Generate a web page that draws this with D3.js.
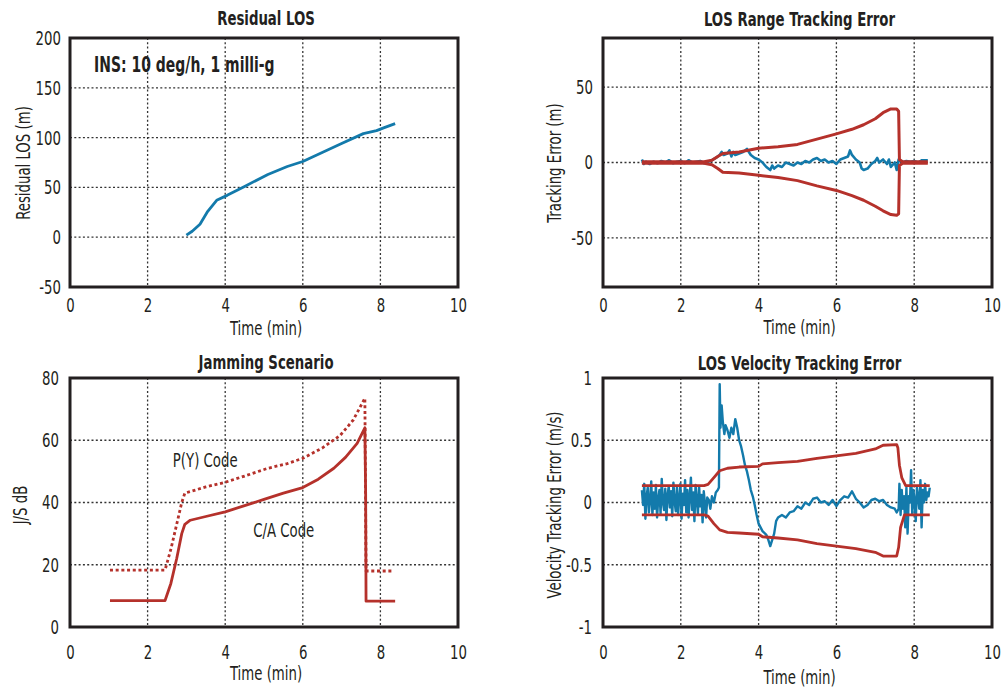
<!DOCTYPE html>
<html>
<head>
<meta charset="utf-8">
<script src="https://cdn.jsdelivr.net/npm/d3@7"></script>
<style>
  body { margin: 0; background: #fff; }
  svg { display: block; }
  text { font-family: "Liberation Sans Narrow", "DejaVu Sans Condensed", sans-serif; fill: #231f20; }
</style>
</head>
<body>
<div id="chart"></div>
<script>
// ---- data (time in minutes) ----
const residualLos = [[3.0, 2], [3.15, 6], [3.35, 13], [3.55, 26], [3.78, 37], [4.05, 42], [4.5, 51],
  [5.1, 63], [5.6, 71], [6.0, 76], [6.5, 85], [7.0, 94], [7.56, 104], [7.9, 107], [8.1, 110], [8.38, 114]];

const rangeUpper = [[1.0, 0.5], [2.6, 0.5], [2.8, 1.5], [2.95, 4], [3.08, 6], [3.5, 7], [4.0, 9.5],
  [4.5, 10.5], [5.0, 12], [5.5, 15.5], [6.0, 19], [6.4, 22], [6.7, 25], [7.0, 29], [7.2, 33],
  [7.4, 35.5], [7.55, 35.5], [7.6, 34], [7.62, 2], [7.7, 0.5], [8.35, 0.5]];
const rangeLower = [[1.0, -0.5], [2.6, -0.5], [2.8, -1.5], [2.95, -4], [3.08, -6.5], [3.5, -7], [4.0, -8.5],
  [4.5, -10], [5.0, -12], [5.5, -15.5], [6.0, -18.5], [6.4, -22], [6.7, -25], [7.0, -29], [7.2, -32],
  [7.4, -34.5], [7.55, -35], [7.6, -34], [7.62, -2], [7.7, -0.5], [8.35, -0.5]];
const rangeError = [[1.0, 2], [1.05, -1], [1.1, 0.5], [1.2, -1], [1.3, 0.5], [1.4, -0.5], [1.5, 1], [1.6, 0],
  [1.7, 1.5], [1.8, -0.5], [1.9, 0.5], [2.0, 1], [2.1, -0.5], [2.2, 1.5], [2.3, 0], [2.4, 0.5], [2.5, 1],
  [2.6, -0.5], [2.7, 0.5], [2.8, 1.5], [2.9, 3], [3.0, 5], [3.05, 7], [3.1, 5], [3.2, 6], [3.25, 8],
  [3.3, 4], [3.35, 7], [3.4, 5], [3.5, 6], [3.6, 7], [3.7, 9], [3.75, 7], [3.8, 5], [3.9, 3], [4.0, 2],
  [4.1, 0], [4.2, -3], [4.3, -5], [4.35, -2], [4.4, -4], [4.5, -2], [4.6, -3], [4.7, 0], [4.8, -1],
  [4.9, -2], [5.0, 0], [5.1, -1], [5.2, 1], [5.3, 0], [5.4, 2], [5.5, 3], [5.6, 1], [5.7, 2], [5.8, 0],
  [5.9, 1], [6.0, -1], [6.1, 2], [6.2, 3], [6.3, 4], [6.35, 8], [6.4, 5], [6.5, 2], [6.6, 0], [6.65, -4],
  [6.7, -5], [6.8, -4], [6.9, -1], [7.0, 1], [7.05, 3], [7.1, 0], [7.2, 2], [7.3, -1], [7.35, 2],
  [7.4, -3], [7.5, 0], [7.55, -5], [7.6, 2], [7.7, 0], [7.8, 1], [7.9, 0.5], [8.0, 1], [8.1, 0],
  [8.2, 1.5], [8.35, 1.5]];

const caCode = [[1.03, 8.5], [2.45, 8.5], [2.6, 14], [2.75, 22], [2.88, 30], [2.96, 33], [3.1, 34.3],
  [3.5, 35.5], [4.0, 37], [4.5, 39], [5.0, 41], [5.5, 43], [6.0, 44.8], [6.4, 47.5], [6.8, 51],
  [7.1, 54.5], [7.4, 59], [7.6, 64], [7.62, 43], [7.63, 8.3], [8.38, 8.3]];
const pyCode = [[1.03, 18.3], [2.45, 18.3], [2.6, 25], [2.75, 33], [2.88, 40], [2.96, 43], [3.5, 45],
  [4.0, 46.5], [4.5, 48.5], [5.1, 51], [5.6, 52.5], [6.0, 54.2], [6.5, 57.5], [6.96, 61.5], [7.3, 66.5],
  [7.6, 73.5], [7.63, 18], [8.33, 18]];

const velUpper = [[1.0, 0.135], [2.6, 0.135], [2.7, 0.145], [2.85, 0.2], [3.0, 0.255], [3.2, 0.275],
  [3.5, 0.285], [4.0, 0.29], [4.1, 0.31], [4.5, 0.32], [5.0, 0.33], [5.5, 0.355], [6.0, 0.375],
  [6.5, 0.395], [7.0, 0.43], [7.2, 0.46], [7.55, 0.465], [7.58, 0.44], [7.62, 0.3], [7.68, 0.2],
  [7.78, 0.135], [8.4, 0.135]];
const velLower = [[1.0, -0.1], [2.6, -0.1], [2.7, -0.11], [2.85, -0.17], [3.0, -0.22], [3.2, -0.24],
  [3.5, -0.245], [4.0, -0.255], [4.1, -0.275], [4.5, -0.285], [5.0, -0.3], [5.5, -0.33], [6.0, -0.35],
  [6.5, -0.37], [7.0, -0.4], [7.2, -0.43], [7.55, -0.43], [7.6, -0.36], [7.65, -0.2], [7.75, -0.1],
  [8.4, -0.1]];
const velErrorTimes = d3.range(1.0, 2.69, 0.03);
const velErrorEarly = [0.1, -0.02, 0.15, -0.13, 0.05, 0.12, -0.08, 0.02, 0.17, -0.1, 0.08, -0.05, 0.14,
  -0.12, 0.03, 0.1, -0.09, 0.19, 0.0, -0.06, 0.11, -0.14, 0.06, 0.13, -0.04, 0.09, -0.11, 0.16, 0.01,
  -0.07, 0.12, -0.1, 0.04, 0.15, -0.13, 0.07, -0.02, 0.18, -0.08, 0.1, -0.12, 0.05, 0.2, -0.06, 0.08,
  -0.15, 0.14, 0.02, -0.09, 0.13, -0.03, 0.06, -0.16, 0.09, 0.0, -0.12, 0.04];
const velErrorMid = [[2.72, 0.02], [2.76, -0.05], [2.8, 0.05], [2.85, 0.0], [2.9, 0.08], [2.95, 0.1],
  [2.98, 0.12], [3.0, 0.95], [3.02, 0.6], [3.05, 0.78], [3.08, 0.65], [3.12, 0.55], [3.15, 0.62],
  [3.2, 0.58], [3.25, 0.52], [3.3, 0.6], [3.35, 0.55], [3.4, 0.67], [3.45, 0.6], [3.5, 0.5],
  [3.55, 0.45], [3.6, 0.38], [3.65, 0.3], [3.7, 0.25], [3.75, 0.18], [3.8, 0.1], [3.85, 0.05],
  [3.9, -0.02], [3.95, -0.1], [4.0, -0.17], [4.05, -0.2], [4.1, -0.23], [4.2, -0.26], [4.25, -0.3],
  [4.3, -0.35], [4.35, -0.3], [4.4, -0.25], [4.45, -0.15], [4.5, -0.12], [4.6, -0.1], [4.7, -0.12],
  [4.8, -0.08], [4.9, -0.07], [5.0, -0.03], [5.1, -0.05], [5.2, 0.0], [5.3, -0.02], [5.4, 0.03],
  [5.5, 0.04], [5.6, 0.0], [5.7, 0.01], [5.8, -0.02], [5.9, 0.02], [6.0, -0.03], [6.1, 0.02],
  [6.2, 0.05], [6.3, 0.04], [6.4, 0.09], [6.5, 0.03], [6.6, 0.0], [6.7, -0.04], [6.8, -0.02],
  [6.9, 0.02], [7.0, 0.03], [7.1, 0.01], [7.2, 0.02], [7.3, -0.02], [7.4, -0.04], [7.5, -0.05],
  [7.55, -0.08], [7.6, -0.05]];
const velErrorLateTimes = d3.range(7.62, 8.41, 0.03);
const velErrorLate = [0.15, -0.1, 0.1, -0.05, 0.05, -0.2, 0.12, -0.25, 0.05, 0.0, 0.26, -0.1, 0.1, 0.02,
  -0.15, 0.12, 0.05, -0.05, 0.18, -0.2, 0.1, 0.0, 0.15, 0.02, 0.08, 0.05, 0.12];

const timeTicks = [0, 2, 4, 6, 8, 10];
const timeGrid = [2, 4, 6, 8];

const velError = velErrorTimes.map((t, i) => [t, velErrorEarly[i]])
  .concat(velErrorMid)
  .concat(velErrorLateTimes.map((t, i) => [t, velErrorLate[i]]).filter(d => d[1] !== undefined));

// ---- layout ----
const blue = "#137aab", red = "#b5312b", ink = "#231f20";
const SX = 0.74, FS = 20; // squeeze text horizontally to look like the condensed original face
const svg = d3.select("#chart").append("svg").attr("width", 1008).attr("height", 689);

function label(parent, x, y, txt, opts) {
  const rot = opts.rotate ? " rotate(-90)" : "";
  const t = parent.append("g").attr("transform", `translate(${x},${y})${rot} scale(${SX},1)`)
    .append("text").attr("text-anchor", opts.anchor || "middle").attr("dominant-baseline", "central")
    .style("font-size", (opts.size || FS) + "px").text(txt);
  if (opts.bold) t.style("font-weight", "bold");
  return t;
}

function panel(cfg) {
  const x = d3.scaleLinear().domain([0, 10]).range([cfg.left, cfg.right]);
  const y = d3.scaleLinear().domain(cfg.yDomain).range([cfg.bottom, cfg.top]);
  const g = svg.append("g");

  // grid
  g.selectAll(null).data(timeGrid).join("line")
    .attr("x1", d => x(d)).attr("x2", d => x(d)).attr("y1", cfg.top).attr("y2", cfg.bottom)
    .attr("stroke", "#333").attr("stroke-width", 1.3).attr("stroke-dasharray", "2,2.3");
  g.selectAll(null).data(cfg.yGrid).join("line")
    .attr("y1", d => y(d)).attr("y2", d => y(d)).attr("x1", cfg.left).attr("x2", cfg.right)
    .attr("stroke", "#333").attr("stroke-width", 1.3).attr("stroke-dasharray", "2,2.3");

  // axes
  const ax = g.append("g").attr("transform", `translate(0,${cfg.bottom})`)
    .call(d3.axisBottom(x).tickValues(timeTicks).tickSize(0).tickPadding(cfg.xPad).tickFormat(d3.format("d")));
  const ay = g.append("g").attr("transform", `translate(${cfg.left},0)`)
    .call(d3.axisLeft(y).tickValues(cfg.yTicks).tickSize(0).tickPadding(cfg.yPad).tickFormat(d => String(d)));
  [ax, ay].forEach(a => {
    a.select(".domain").remove();
    a.selectAll("text").style("font-size", FS + "px").style("font-family", null).attr("fill", ink)
      .attr("transform", `scale(${SX},1)`);
  });
  ay.selectAll("text").attr("x", -cfg.yPad / SX);

  const line = d3.line().x(d => x(d[0])).y(d => y(d[1]));
  cfg.series.forEach(s => {
    g.append("path").datum(s.data).attr("d", line)
      .attr("fill", "none").attr("stroke", s.color).attr("stroke-width", s.width || 2.8)
      .attr("stroke-linejoin", "round")
      .attr("stroke-dasharray", s.dash || null);
  });

  // frame
  g.append("rect").attr("x", cfg.left).attr("y", cfg.top)
    .attr("width", cfg.right - cfg.left).attr("height", cfg.bottom - cfg.top)
    .attr("fill", "none").attr("stroke", ink).attr("stroke-width", 3);

  const cx = (cfg.left + cfg.right) / 2 + 2;
  label(g, cx, cfg.titleY, cfg.title, { bold: true });
  label(g, cx, cfg.xLabelY, "Time (min)", {});
  label(g, cfg.yLabelX, cfg.yLabelY, cfg.yLabel, { rotate: true });

  (cfg.notes || []).forEach(n => {
    label(g, x(n.t), y(n.v), n.text, { anchor: "start", size: n.size, bold: n.bold });
  });
}

panel({
  left: 70, right: 458, top: 38, bottom: 287, yDomain: [-50, 200],
  yTicks: [-50, 0, 50, 100, 150, 200], yGrid: [0, 50, 100, 150], xPad: 11, yPad: 9,
  title: "Residual LOS", titleY: 18, xLabelY: 328, yLabel: "Residual LOS (m)", yLabelX: 23, yLabelY: 163,
  series: [{ data: residualLos, color: blue }],
  notes: [{ t: 0.62, v: 173, text: "INS: 10 deg/h, 1 milli-g", size: 21, bold: true }]
});

panel({
  left: 603, right: 992, top: 38, bottom: 287, yDomain: [-82.5, 82.5],
  yTicks: [-50, 0, 50], yGrid: [-50, 0, 50], xPad: 11, yPad: 10,
  title: "LOS Range Tracking Error", titleY: 19, xLabelY: 327, yLabel: "Tracking Error (m)", yLabelX: 554, yLabelY: 163,
  series: [{ data: rangeError, color: blue, width: 2.6 }, { data: rangeUpper, color: red, width: 3 }, { data: rangeLower, color: red, width: 3 }]
});

panel({
  left: 70, right: 458, top: 378, bottom: 627, yDomain: [0, 80],
  yTicks: [0, 20, 40, 60, 80], yGrid: [20, 40, 60], xPad: 18, yPad: 11,
  title: "Jamming Scenario", titleY: 362, xLabelY: 673, yLabel: "J/S dB", yLabelX: 20, yLabelY: 505,
  series: [{ data: pyCode, color: red, width: 2.8, dash: "3,2.7" }, { data: caCode, color: red }],
  notes: [{ t: 2.65, v: 53.7, text: "P(Y) Code" }, { t: 4.72, v: 31, text: "C/A Code" }]
});

panel({
  left: 603, right: 992, top: 378, bottom: 627, yDomain: [-1, 1],
  yTicks: [-1, -0.5, 0, 0.5, 1], yGrid: [-0.5, 0, 0.5], xPad: 18, yPad: 11,
  title: "LOS Velocity Tracking Error", titleY: 363, xLabelY: 677, yLabel: "Velocity Tracking Error (m/s)", yLabelX: 554, yLabelY: 505,
  series: [{ data: velError, color: blue, width: 2.4 }, { data: velUpper, color: red }, { data: velLower, color: red }]
});
</script>
</body>
</html>
